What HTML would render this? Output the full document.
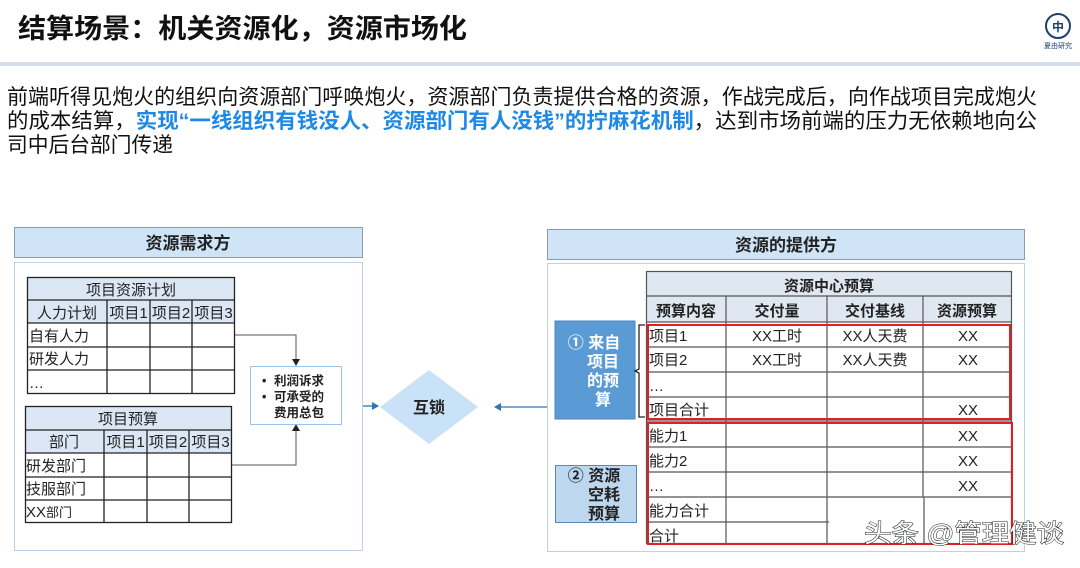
<!DOCTYPE html>
<html><head><meta charset="utf-8"><style>
body{margin:0;width:1080px;height:563px;overflow:hidden;background:#fff;font-family:"Liberation Sans","Noto Sans CJK SC",sans-serif;}
svg text{font-family:"Liberation Sans","Noto Sans CJK SC",sans-serif;}
</style></head><body>
<svg width="1080" height="563" viewBox="0 0 1080 563" xmlns="http://www.w3.org/2000/svg">
<defs>
<marker id="ah" markerWidth="8" markerHeight="8" refX="6" refY="4" orient="auto" markerUnits="userSpaceOnUse"><path d="M0,0 L7,4 L0,8 z" fill="#222"/></marker>
<marker id="ab" markerWidth="8" markerHeight="8" refX="6" refY="4" orient="auto" markerUnits="userSpaceOnUse"><path d="M0,0 L7,4 L0,8 z" fill="#2e75b6"/></marker>
</defs>
<!-- title -->
<text x="18" y="38" font-size="27" font-weight="bold" fill="#111" textLength="449" lengthAdjust="spacingAndGlyphs">结算场景：机关资源化，资源市场化</text>
<rect x="0" y="62" width="1080" height="4" fill="#d6dde9"/>
<!-- logo -->
<g transform="translate(1058,26)"><circle r="12" fill="none" stroke="#1f3f6e" stroke-width="2"/><text y="5" font-size="12" text-anchor="middle" fill="#1f3f6e" font-weight="bold">中</text></g>
<text x="1058" y="48" font-size="7" text-anchor="middle" fill="#1f3f6e">夏由研究</text>
<!-- paragraph -->
<g font-size="21" fill="#111">
<text x="7" y="104" textLength="1030" lengthAdjust="spacingAndGlyphs">前端听得见炮火的组织向资源部门呼唤炮火，资源部门负责提供合格的资源，作战完成后，向作战项目完成炮火</text>
<text x="7" y="128" textLength="1030" lengthAdjust="spacingAndGlyphs">的成本结算，<tspan fill="#1e88e5" font-weight="bold">实现“一线组织有钱没人、资源部门有人没钱”的拧麻花机制</tspan>，达到市场前端的压力无依赖地向公</text>
<text x="7" y="152" textLength="166" lengthAdjust="spacingAndGlyphs">司中后台部门传递</text>
</g>
<!-- left panel -->
<rect x="14.5" y="227.5" width="348" height="30" fill="#cfe4f7" stroke="#8a9bb0"/>
<text x="188" y="249" font-size="17" font-weight="bold" text-anchor="middle" fill="#222">资源需求方</text>
<rect x="14.5" y="262.5" width="348" height="288" fill="#fff" stroke="#b9d3ee"/>
<!-- table1 -->
<rect x="27" y="277" width="208" height="46" fill="#dbe7f4"/>
<g stroke="#222" stroke-width="1.3" fill="none">
<rect x="27.5" y="277.5" width="207" height="116"/>
<line x1="27" y1="300" x2="235" y2="300"/><line x1="27" y1="323" x2="235" y2="323"/><line x1="27" y1="347" x2="235" y2="347"/><line x1="27" y1="370" x2="235" y2="370"/>
<line x1="107" y1="300" x2="107" y2="394"/><line x1="150" y1="300" x2="150" y2="394"/><line x1="192" y1="300" x2="192" y2="394"/>
</g>
<g font-size="15" fill="#222">
<text x="131" y="295" text-anchor="middle">项目资源计划</text>
<text x="67" y="318" text-anchor="middle">人力计划</text>
<text x="128.5" y="318" text-anchor="middle">项目1</text><text x="171" y="318" text-anchor="middle">项目2</text><text x="213.5" y="318" text-anchor="middle">项目3</text>
<text x="29" y="341">自有人力</text><text x="29" y="364">研发人力</text><text x="29" y="388">…</text>
</g>
<!-- table2 -->
<rect x="25" y="406" width="207" height="47" fill="#dbe7f4"/>
<g stroke="#222" stroke-width="1.3" fill="none">
<rect x="25.5" y="406.5" width="206" height="116"/>
<line x1="25" y1="430" x2="232" y2="430"/><line x1="25" y1="453" x2="232" y2="453"/><line x1="25" y1="477" x2="232" y2="477"/><line x1="25" y1="500" x2="232" y2="500"/>
<line x1="104" y1="430" x2="104" y2="523"/><line x1="147" y1="430" x2="147" y2="523"/><line x1="189" y1="430" x2="189" y2="523"/>
</g>
<g font-size="15" fill="#222">
<text x="128" y="424" text-anchor="middle">项目预算</text>
<text x="64" y="447" text-anchor="middle">部门</text>
<text x="125.5" y="447" text-anchor="middle">项目1</text><text x="168" y="447" text-anchor="middle">项目2</text><text x="210.5" y="447" text-anchor="middle">项目3</text>
<text x="26" y="471">研发部门</text><text x="26" y="494">技服部门</text><text x="26" y="517">XX<tspan font-size="13">部门</tspan></text>
</g>
<!-- connectors -->
<polyline points="235,335 296,335 296,365" fill="none" stroke="#555" marker-end="url(#ah)"/>
<polyline points="232,465 296,465 296,425" fill="none" stroke="#555" marker-end="url(#ah)"/>
<rect x="250.5" y="366.5" width="91" height="58" fill="#fff" stroke="#9ec3e8"/>
<g font-size="12.5" font-weight="bold" fill="#222">
<text x="262" y="385">•</text><text x="274" y="385">利润诉求</text>
<text x="262" y="401">•</text><text x="274" y="401">可承受的</text>
<text x="274" y="417">费用总包</text>
</g>
<!-- diamond -->
<line x1="363" y1="406" x2="378" y2="406" stroke="#2e75b6" stroke-width="1.3" marker-end="url(#ab)"/>
<polygon points="429,370 478,407 429,444 380,407" fill="#c9e2f7"/>
<text x="429" y="413" font-size="16" font-weight="bold" text-anchor="middle" fill="#222">互锁</text>
<line x1="547" y1="407" x2="495" y2="407" stroke="#2e75b6" stroke-width="1.3" marker-end="url(#ab)"/>
<!-- right panel -->
<rect x="547.5" y="229.5" width="477" height="30" fill="#cfe4f7" stroke="#8a9bb0"/>
<text x="786" y="251" font-size="17" font-weight="bold" text-anchor="middle" fill="#222">资源的提供方</text>
<rect x="547.5" y="263.5" width="477" height="288" fill="#fff" stroke="#b9d3ee"/>
<!-- side boxes -->
<rect x="555" y="321" width="80" height="98" fill="#5b9bd5" stroke="#4a86c0"/>
<g font-size="16" font-weight="bold" fill="#fff" text-anchor="middle">
<text x="594" y="348">① 来自</text><text x="603" y="367">项目</text><text x="603" y="386">的预</text><text x="603" y="405">算</text>
</g>
<rect x="555.5" y="465.5" width="81" height="57" fill="#bdd7ee" stroke="#5b86b5"/>
<g font-size="16" font-weight="bold" fill="#222" text-anchor="middle">
<text x="594" y="481">② 资源</text><text x="604" y="500">空耗</text><text x="604" y="519">预算</text>
</g>
<path d="M645,325 L639,325 L639,369 L635,371 L639,373 L639,417 L645,417" fill="none" stroke="#222" stroke-width="1.3"/>
<!-- right table -->
<rect x="646" y="271" width="366" height="51" fill="#dfe7f1"/>
<g stroke="#555" stroke-width="1.2" fill="none">
<rect x="646.5" y="271.5" width="365" height="272"/>
<line x1="646" y1="296" x2="1012" y2="296"/><line x1="646" y1="322" x2="1012" y2="322"/>
<line x1="646" y1="347" x2="1012" y2="347"/><line x1="646" y1="372" x2="1012" y2="372"/><line x1="646" y1="397" x2="1012" y2="397"/>
<line x1="646" y1="421" x2="1012" y2="421"/><line x1="646" y1="447" x2="1012" y2="447"/><line x1="646" y1="472" x2="1012" y2="472"/><line x1="646" y1="497" x2="1012" y2="497"/><line x1="646" y1="522" x2="829" y2="522"/>
<line x1="726" y1="296" x2="726" y2="544"/><line x1="827" y1="296" x2="827" y2="544"/><line x1="923" y1="296" x2="923" y2="497"/><line x1="924" y1="497" x2="924" y2="544"/>
</g>
<g stroke="#e02020" stroke-width="2" fill="none">
<rect x="648" y="325" width="362" height="94"/>
<rect x="648" y="423" width="364" height="121"/>
</g>
<g font-size="15" fill="#222">
<text x="829" y="291" text-anchor="middle" font-weight="bold">资源中心预算</text>
<g font-weight="bold" text-anchor="middle"><text x="686" y="316">预算内容</text><text x="777" y="316">交付量</text><text x="875" y="316">交付基线</text><text x="967" y="316">资源预算</text></g>
<text x="649" y="341">项目1</text><text x="649" y="365">项目2</text><text x="649" y="391">…</text><text x="649" y="415">项目合计</text>
<text x="649" y="441">能力1</text><text x="649" y="466">能力2</text><text x="649" y="491">…</text><text x="649" y="516">能力合计</text><text x="649" y="541">合计</text>
<g text-anchor="middle"><text x="777" y="341">XX工时</text><text x="777" y="365">XX工时</text><text x="875" y="341">XX人天费</text><text x="875" y="365">XX人天费</text>
<text x="968" y="341">XX</text><text x="968" y="365">XX</text><text x="968" y="415">XX</text><text x="968" y="441">XX</text><text x="968" y="466">XX</text><text x="968" y="491">XX</text></g>
</g>
<!-- watermark -->
<text x="864" y="542" font-size="25" fill="#fff" stroke="#222" stroke-width="1" paint-order="stroke" textLength="200" lengthAdjust="spacingAndGlyphs">头条 @管理健谈</text>
</svg>
</body></html>
